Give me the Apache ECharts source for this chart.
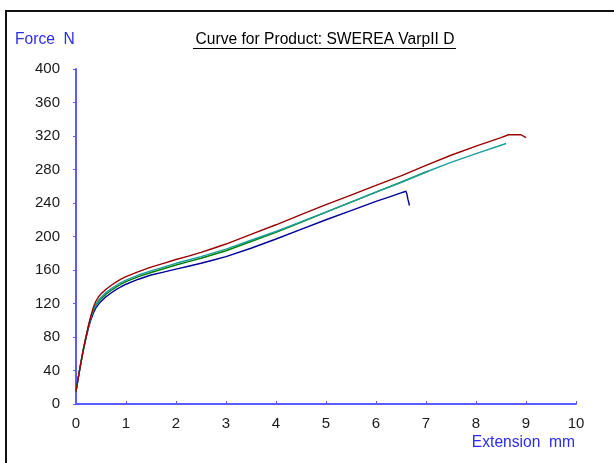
<!DOCTYPE html>
<html>
<head>
<meta charset="utf-8">
<script src="https://cdn.jsdelivr.net/npm/echarts@6/dist/echarts.min.js"></script>
<style>
html,body{margin:0;padding:0;background:#fff;}
#chart{width:614px;height:463px;}
</style>
</head>
<body>
<div id="chart"></div>
<script>
// Axis ticks
const xTicks = [0,1,2,3,4,5,6,7,8,9,10];
const yTicks = [0,40,80,120,160,200,240,280,320,360,400];

// Series data: [extension mm, force N]
const redCurve = [[0,15],[0.05,33],[0.1,50],[0.15,66],[0.2,80],[0.25,94],[0.3,106],[0.35,116],[0.4,123],[0.45,128],[0.5,131.5],[0.6,137],[0.7,141.5],[0.8,145.5],[0.9,149],[1.0,152],[1.25,158],[1.5,163.5],[1.75,168],[2.0,172.5],[2.25,176.5],[2.5,181],[2.75,186],[3.0,191],[3.5,202.5],[4.0,214],[4.5,226],[5.0,238],[5.5,249.5],[6.0,261],[6.5,272.5],[7.0,285],[7.5,297],[8.0,308],[8.5,318],[8.65,321.5],[8.9,321.5],[9.0,318]];
const tealCurve = [[0,15],[0.05,33],[0.1,50],[0.15,66],[0.2,80],[0.25,93],[0.3,104],[0.35,113],[0.4,119],[0.45,124],[0.5,127.5],[0.6,133],[0.7,137.5],[0.8,141.5],[0.9,145],[1.0,148],[1.25,154],[1.5,159],[1.75,163.5],[2.0,168],[2.25,172],[2.5,176],[2.75,180.5],[3.0,185],[3.5,195.5],[4.0,206],[4.5,217.5],[5.0,229],[5.5,241],[6.0,253],[6.5,264.5],[7.0,277],[7.5,288.5],[8.0,299],[8.5,309],[8.6,311]];
const greenCurve = [[0,15],[0.05,33],[0.1,50],[0.15,66],[0.2,80],[0.25,93],[0.3,104],[0.35,112],[0.4,118],[0.45,122],[0.5,125.5],[0.6,131],[0.7,135.5],[0.8,139.5],[0.9,143],[1.0,146],[1.25,152],[1.5,157],[1.75,161.5],[2.0,166],[2.25,170],[2.5,174],[2.75,178.5],[3.0,183],[3.5,194],[4.0,205],[4.5,217],[5.0,229],[5.5,241],[6.0,253],[6.5,265],[7.0,277],[7.05,278]];
const blueCurve = [[0,15],[0.05,33],[0.1,50],[0.15,65],[0.2,79],[0.25,91],[0.3,101],[0.35,109],[0.4,115],[0.45,119],[0.5,122.5],[0.6,128],[0.7,132.5],[0.8,136.5],[0.9,140],[1.0,143],[1.25,149],[1.5,154],[1.75,157.5],[2.0,161],[2.25,164.5],[2.5,168],[2.75,172],[3.0,176],[3.5,186],[4.0,197],[4.5,208.5],[5.0,220],[5.5,231],[6.0,242],[6.3,248],[6.5,252],[6.6,254],[6.62,250],[6.64,244],[6.67,237]];

const chart = echarts.init(document.getElementById('chart'), null, {renderer:'canvas'});
const axisBlue = '#5a5aff';
const font = 'Liberation Sans, Arial, sans-serif';
function line(data, color){
  return {type:'line', data:data, showSymbol:false, smooth:false, silent:true,
    lineStyle:{color:color, width:1.4}, animation:false};
}
chart.setOption({
  animation:false,
  backgroundColor:'#fff',
  grid:{left:76, right:38, top:69, bottom:59, containLabel:false},
  xAxis:{type:'value', min:xTicks[0], max:xTicks[xTicks.length-1], interval:1,
    axisLine:{show:true, onZero:false, lineStyle:{color:axisBlue, width:2}},
    axisTick:{show:true, inside:true, length:3, lineStyle:{color:axisBlue, width:1}},
    axisLabel:{color:'#1a1a1a', fontSize:15, fontFamily:font, margin:12},
    splitLine:{show:false}},
  yAxis:{type:'value', min:yTicks[0], max:yTicks[yTicks.length-1], interval:40,
    axisLine:{show:true, onZero:false, lineStyle:{color:axisBlue, width:2}},
    axisTick:{show:true, inside:false, length:3, lineStyle:{color:axisBlue, width:1}},
    axisLabel:{color:'#1a1a1a', fontSize:15, fontFamily:font, margin:16},
    splitLine:{show:false}},
  series:[
    line(blueCurve,'#000099'),
    line(greenCurve,'#008000'),
    line(tealCurve,'#1a9e9e'),
    line(redCurve,'#990000')
  ],
  graphic:[
    {type:'rect', shape:{x:6, y:11, width:700, height:600}, style:{fill:null, stroke:'#111', lineWidth:2}, silent:true},
    {type:'text', x:15, y:40, style:{text:'Force  N', fill:'#2b2bf0', font:'15.6px '+font, textAlign:'left', textVerticalAlign:'middle'}},
    {type:'text', x:575, y:443, style:{text:'Extension  mm', fill:'#2b2bf0', font:'15.6px '+font, textAlign:'right', textVerticalAlign:'middle'}},
    {type:'text', x:325, y:40, style:{text:'Curve for Product: SWEREA VarpII D', fill:'#000', font:'15.6px '+font, textAlign:'center', textVerticalAlign:'middle'}},
    {type:'line', shape:{x1:193, y1:48.5, x2:456, y2:48.5}, style:{stroke:'#000', lineWidth:1}}
  ]
});
</script>
</body>
</html>
